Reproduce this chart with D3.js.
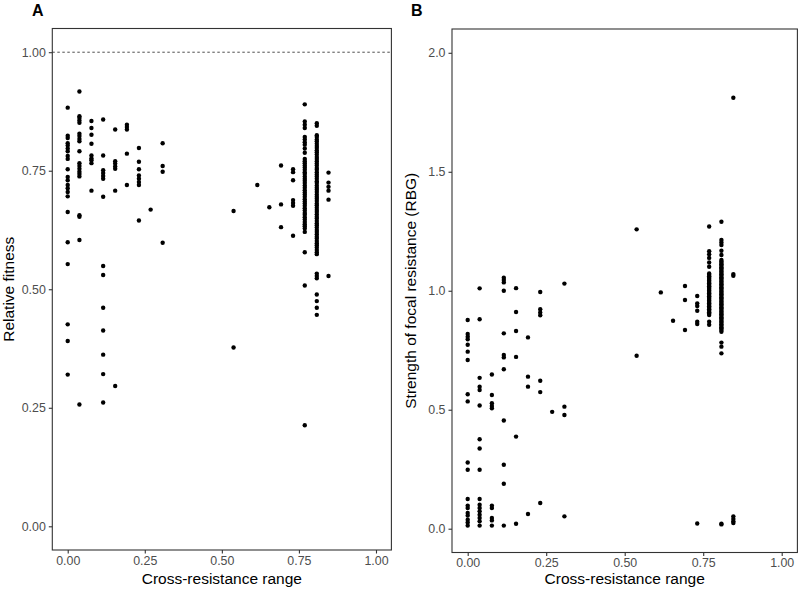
<!DOCTYPE html>
<html>
<head>
<meta charset="utf-8">
<script src="https://cdn.jsdelivr.net/npm/d3@7"></script>
<style>
  html, body { margin: 0; padding: 0; background: #fff; }
  svg { display: block; font-family: "Liberation Sans", Arial, Helvetica, sans-serif; }
</style>
</head>
<body>
<svg id="chart" width="800" height="593"></svg>
<script>
// ---- Data ----
const crossRange = [0.000, 0.038, 0.077, 0.115, 0.154, 0.192, 0.231, 0.269, 0.308,
                    0.538, 0.615, 0.654, 0.692, 0.731, 0.769, 0.808, 0.846];

// Panel A: relative fitness, one array per cross-resistance level
const fitness = [
  [0.883,0.824,0.819,0.808,0.803,0.797,0.791,0.781,0.775,0.753,0.737,0.730,0.720,0.713,0.705,0.696,0.663,0.599,0.553,0.426,0.391,0.320],
  [0.917,0.865,0.861,0.856,0.851,0.828,0.823,0.817,0.812,0.791,0.766,0.760,0.754,0.748,0.743,0.738,0.656,0.653,0.604,0.257],
  [0.855,0.840,0.826,0.807,0.782,0.776,0.772,0.766,0.708],
  [0.858,0.782,0.751,0.745,0.739,0.733,0.695,0.549,0.530,0.461,0.413,0.362,0.321,0.261],
  [0.837,0.770,0.765,0.759,0.754,0.708,0.296],
  [0.847,0.842,0.837,0.786,0.720],
  [0.798,0.769,0.753,0.740,0.733,0.726,0.720,0.645],
  [0.668],
  [0.808,0.760,0.748,0.598],
  [0.665,0.377],
  [0.720],
  [0.673],
  [0.761,0.679,0.631],
  [0.753,0.747,0.730,0.688,0.682,0.676,0.613],
  [0.890,0.854,0.847,0.840,0.821,0.816,0.810,0.805,0.797,0.788,
   0.775,0.770,0.766,0.761,0.757,0.752,0.747,0.743,0.738,0.733,0.729,0.724,0.719,0.714,0.709,0.704,
   0.700,0.695,0.690,0.685,0.681,0.676,0.671,0.666,0.661,0.657,0.652,0.647,0.642,0.637,0.633,0.628,0.621,
   0.578,0.508,0.213],
  [0.850,0.845,
   0.825,0.821,0.816,0.812,0.807,0.802,0.798,0.793,0.789,0.784,0.779,0.775,0.770,0.765,0.761,0.756,0.752,
   0.747,0.742,0.738,0.733,0.728,0.724,0.719,0.714,0.710,0.705,
   0.700,0.695,0.691,0.686,0.681,0.677,0.672,0.667,0.663,0.658,0.653,0.649,0.644,0.639,0.635,0.630,0.625,
   0.621,0.616,0.611,0.607,0.602,0.597,0.593,0.588,0.583,0.578,0.574,
   0.533,0.528,0.523,0.489,0.475,0.461,0.446],
  [0.746,0.725,0.716,0.708,0.689,0.528]
];

// Panel B: strength of focal resistance (RBG)
const strength = [
  [0.877,0.818,0.807,0.796,0.773,0.744,0.709,0.565,0.535,0.278,0.248,0.125,0.097,0.087,0.066,0.055,0.038,0.026,0.013],
  [1.010,0.880,0.634,0.597,0.583,0.518,0.376,0.337,0.248,0.125,0.101,0.087,0.073,0.059,0.045,0.031,0.013],
  [0.648,0.562,0.527,0.516,0.506,0.097,0.087,0.045,0.035,0.013],
  [1.055,1.045,1.035,1.000,0.821,0.730,0.720,0.670,0.455,0.269,0.189,0.013],
  [1.011,0.911,0.831,0.722,0.387,0.021],
  [0.804,0.639,0.597,0.062],
  [0.995,0.922,0.909,0.897,0.622,0.574,0.108],
  [0.491],
  [1.030,0.513,0.478,0.052],
  [1.258,0.727],
  [0.993],
  [0.874],
  [1.020,0.961,0.835],
  [0.978,0.947,0.936,0.916,0.870,0.860,0.022],
  [1.270,1.166,1.153,1.138,1.119,1.101,
   1.073,1.067,1.061,1.055,1.049,1.043,1.037,1.031,1.025,1.019,1.013,1.007,1.001,0.995,0.989,
   0.983,0.977,0.971,0.965,0.959,0.953,0.947,0.941,0.935,0.929,0.922,0.916,0.910,0.904,0.898,
   0.870,0.857],
  [1.290,1.213,1.203,1.192,1.168,1.150,
   1.129,1.123,1.117,1.111,1.105,1.099,1.093,1.087,1.081,1.075,1.069,1.063,1.057,1.051,1.045,
   1.039,1.033,1.027,1.021,1.015,1.009,1.003,0.997,0.991,0.985,0.979,0.973,0.967,0.961,0.955,
   0.949,0.943,0.937,0.931,0.925,0.919,0.913,0.907,0.901,0.895,0.889,0.883,0.877,0.871,0.865,
   0.859,0.853,0.847,0.841,0.835,0.828,
   0.782,0.765,0.737,0.021,0.018],
  [1.811,1.070,1.063,0.052,0.041,0.031,0.024]
];

const xTicks = [0, 0.25, 0.5, 0.75, 1];
const yTicksA = [0, 0.25, 0.5, 0.75, 1];
const yTicksB = [0, 0.5, 1, 1.5, 2];
const refLineA = 1;

// ---- Drawing ----
const svg = d3.select("#chart");

function panel(opts) {
  const x = d3.scaleLinear().domain([-0.05, 1.05]).range([opts.left, opts.right]);
  const y = d3.scaleLinear().domain(opts.yDomain).range([opts.bottom, opts.top]);
  const g = svg.append("g");

  const pts = [];
  crossRange.forEach((cx, i) => opts.values[i].forEach(v => pts.push([cx, v])));

  if (opts.refLine !== undefined) {
    g.append("line")
      .attr("x1", opts.left).attr("x2", opts.right)
      .attr("y1", y(opts.refLine)).attr("y2", y(opts.refLine))
      .attr("stroke", "#000").attr("stroke-width", 0.7)
      .attr("stroke-dasharray", "2.5,2.5");
  }

  g.selectAll("circle").data(pts).join("circle")
    .attr("cx", d => x(d[0])).attr("cy", d => y(d[1]))
    .attr("r", 2.2).attr("fill", "#000");

  // border
  g.append("rect")
    .attr("x", opts.left).attr("y", opts.top)
    .attr("width", opts.right - opts.left).attr("height", opts.bottom - opts.top)
    .attr("fill", "none").attr("stroke", "#333").attr("stroke-width", 1.1);

  const xAxis = g.append("g").attr("transform", `translate(0,${opts.bottom})`)
    .call(d3.axisBottom(x).tickValues(xTicks).tickFormat(d3.format(".2f")).tickSize(3.5).tickPadding(2.5));
  const yAxis = g.append("g").attr("transform", `translate(${opts.left},0)`)
    .call(d3.axisLeft(y).tickValues(opts.yTicks).tickFormat(d3.format(opts.yFmt)).tickSize(3.5).tickPadding(3));
  [xAxis, yAxis].forEach(a => {
    a.select(".domain").remove();
    a.selectAll(".tick line").attr("stroke", "#333").attr("stroke-width", 1.1);
    a.selectAll(".tick text").attr("fill", "#4d4d4d").style("font-size", "12.4px")
      .style("font-family", "'Liberation Sans', Arial, sans-serif");
  });

  g.append("text")
    .attr("x", (opts.left + opts.right) / 2).attr("y", 584)
    .attr("text-anchor", "middle").attr("fill", "#000").style("font-size", "15.5px")
    .text("Cross-resistance range");
  g.append("text")
    .attr("transform", `translate(${opts.yTitleX},${(opts.top + opts.bottom) / 2}) rotate(-90)`)
    .attr("text-anchor", "middle").attr("fill", "#000").style("font-size", "15.5px")
    .text(opts.yTitle);
  g.append("text")
    .attr("x", opts.tagX).attr("y", 16)
    .attr("fill", "#000").style("font-size", "16px").style("font-weight", "bold")
    .text(opts.tag);
}

panel({
  left: 52.3, right: 391.4, top: 28.5, bottom: 550,
  yDomain: [-0.05, 1.05], yTicks: yTicksA, yFmt: ".2f",
  values: fitness, refLine: refLineA,
  yTitle: "Relative fitness", yTitleX: 14, tag: "A", tagX: 32
});
panel({
  left: 452, right: 797.4, top: 29, bottom: 552.5,
  yDomain: [-0.1, 2.1], yTicks: yTicksB, yFmt: ".1f",
  values: strength,
  yTitle: "Strength of focal resistance (RBG)", yTitleX: 416, tag: "B", tagX: 411
});
</script>
</body>
</html>
